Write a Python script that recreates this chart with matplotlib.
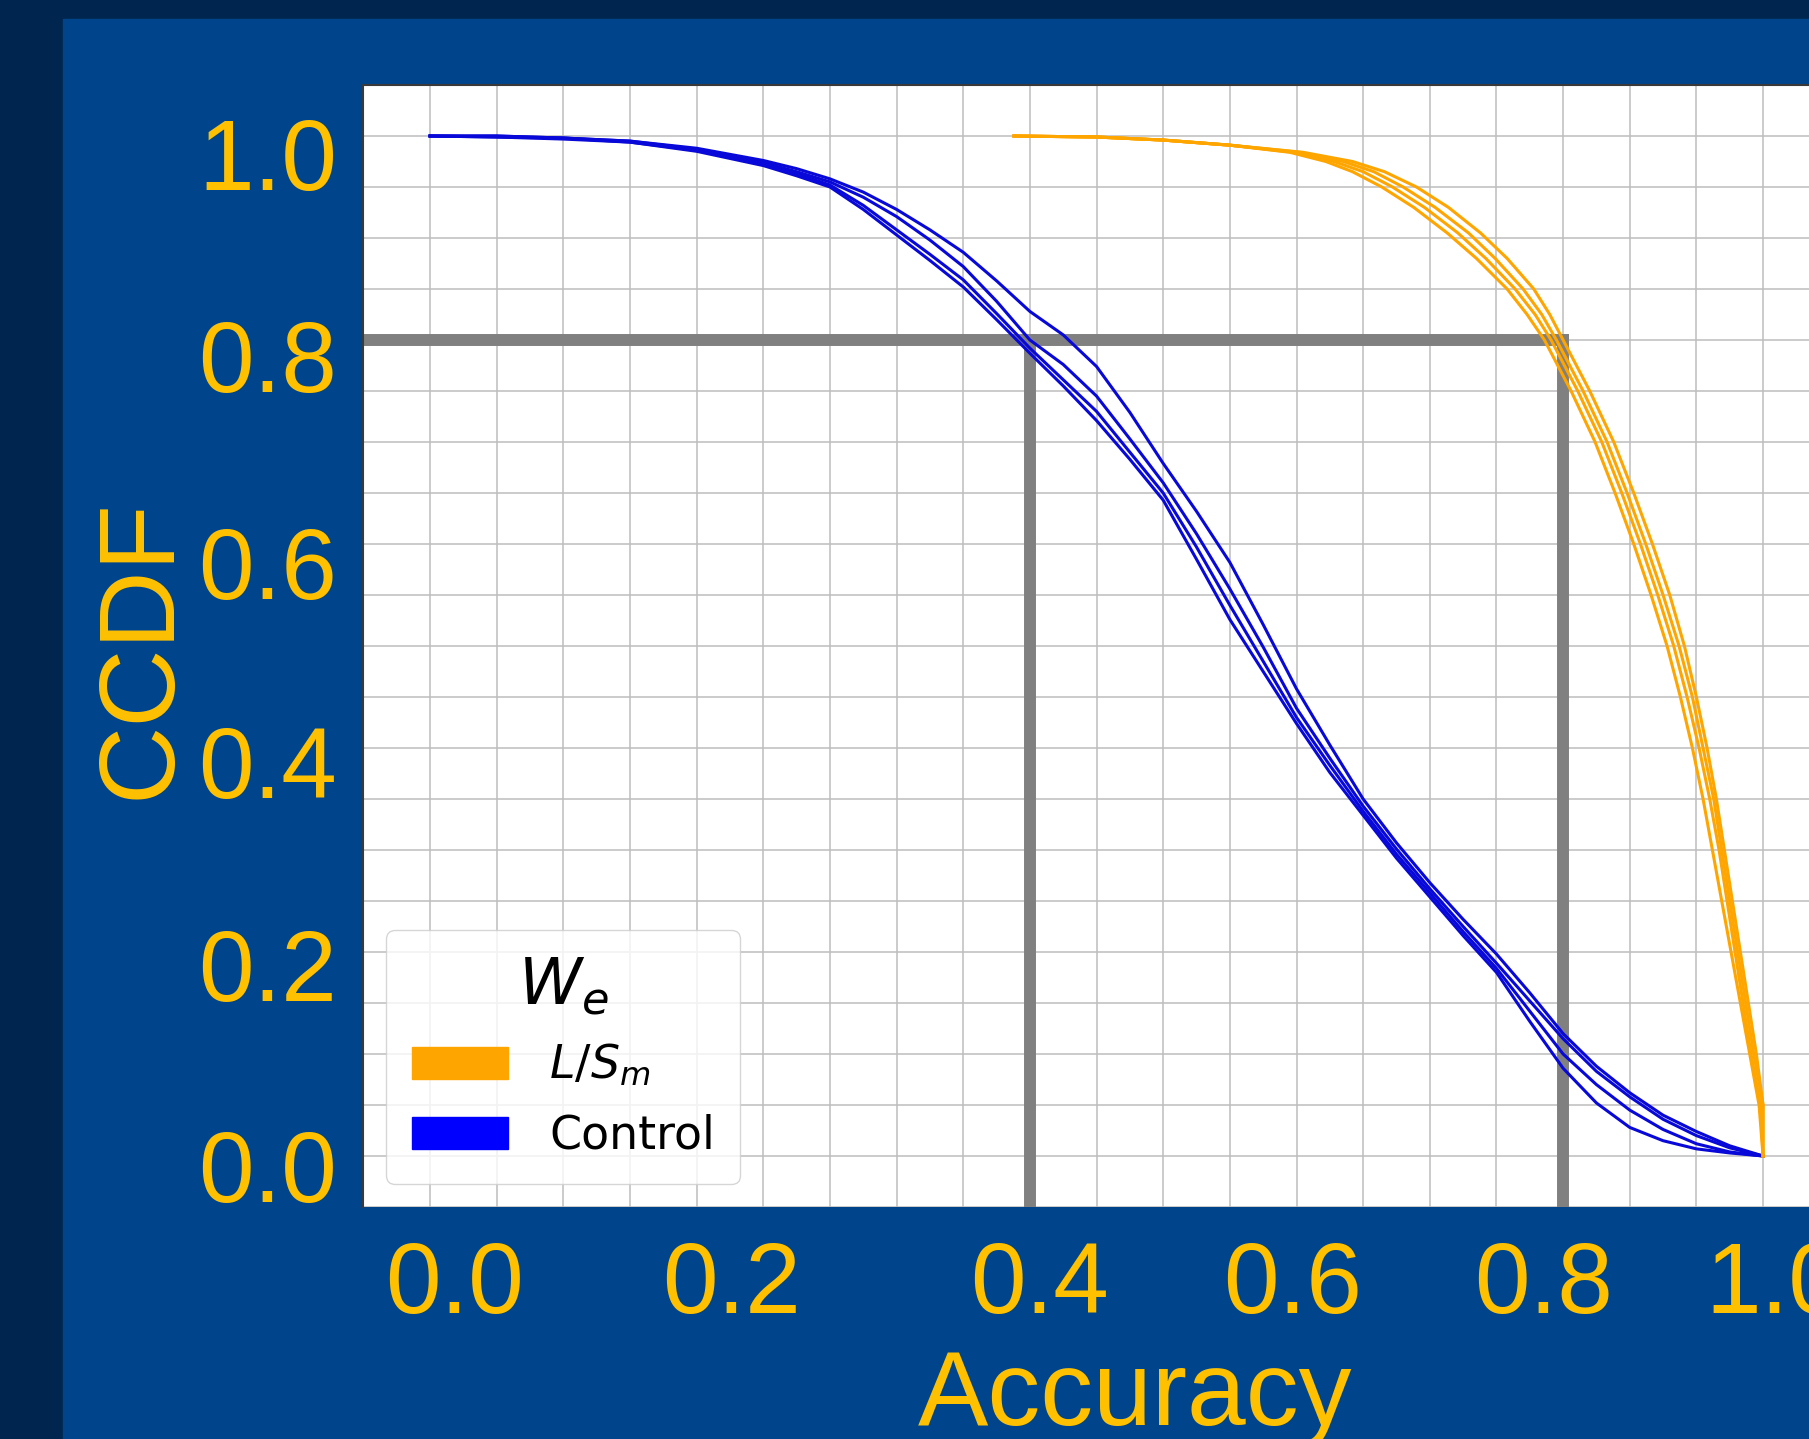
# CCDF of accuracy, L/S_m runs vs control runs, as shown on a slide

import matplotlib
matplotlib.use("Agg")
import numpy as np
import matplotlib.pyplot as plt
from matplotlib.patches import Patch, Rectangle

# slide colours
dark_bg = "#00264f"
panel_bg = "#00458b"
gold = "#ffc000"
ctrl_color = "#0808d8"
lsm_color = "#ffa500"

# control runs (blue): CCDF values on a shared accuracy grid
ctrl_x = [0.0, 0.05, 0.10, 0.15, 0.20, 0.225, 0.25, 0.275, 0.30, 0.325, 0.35,
          0.375, 0.40, 0.425, 0.45, 0.475, 0.50, 0.525, 0.55, 0.575, 0.60,
          0.625, 0.65, 0.675, 0.70, 0.725, 0.75, 0.775, 0.80, 0.825, 0.85,
          0.875, 0.90, 0.925, 0.95, 0.975, 1.0]
ctrl_a = [1.0, 1.0, 0.998, 0.995, 0.988, 0.982, 0.976, 0.968, 0.958, 0.945, 0.928,
          0.908, 0.886, 0.858, 0.828, 0.805, 0.774, 0.729, 0.679, 0.632, 0.582,
          0.521, 0.458, 0.403, 0.350, 0.307, 0.268, 0.232, 0.198, 0.160, 0.120,
          0.088, 0.062, 0.040, 0.024, 0.010, 0.0]
ctrl_b = [1.0, 1.0, 0.998, 0.995, 0.987, 0.981, 0.974, 0.965, 0.955, 0.940, 0.921,
          0.898, 0.872, 0.838, 0.800, 0.776, 0.745, 0.703, 0.660, 0.610, 0.556,
          0.499, 0.439, 0.390, 0.343, 0.301, 0.262, 0.225, 0.189, 0.152, 0.115,
          0.083, 0.058, 0.036, 0.020, 0.008, 0.0]
ctrl_c = [1.0, 0.999, 0.998, 0.994, 0.986, 0.979, 0.973, 0.963, 0.952, 0.932, 0.908,
          0.884, 0.859, 0.826, 0.792, 0.761, 0.730, 0.690, 0.650, 0.597, 0.540,
          0.485, 0.430, 0.383, 0.338, 0.296, 0.258, 0.220, 0.184, 0.142, 0.100,
          0.070, 0.045, 0.026, 0.012, 0.004, 0.0]
ctrl_d = [1.0, 0.999, 0.997, 0.994, 0.985, 0.978, 0.971, 0.961, 0.950, 0.928, 0.903,
          0.878, 0.852, 0.820, 0.787, 0.755, 0.721, 0.683, 0.643, 0.585, 0.526,
          0.475, 0.424, 0.376, 0.334, 0.292, 0.254, 0.216, 0.180, 0.132, 0.086,
          0.052, 0.028, 0.015, 0.007, 0.003, 0.0]
ctrl_runs = [ctrl_a, ctrl_b, ctrl_c, ctrl_d]

# L/S_m runs (orange): accuracy read at shared CCDF levels
lsm_y = [1.0, 0.999, 0.996, 0.991, 0.984, 0.975, 0.965, 0.95, 0.93, 0.905,
         0.88, 0.85, 0.825, 0.80, 0.75, 0.70, 0.65, 0.60, 0.55, 0.50,
         0.45, 0.40, 0.35, 0.30, 0.25, 0.20, 0.15, 0.10, 0.05, 0.0]
lsm_a = [0.438, 0.50, 0.55, 0.60, 0.645, 0.672, 0.692, 0.714, 0.738, 0.763,
         0.785, 0.808, 0.823, 0.836, 0.856, 0.874, 0.889, 0.903, 0.916, 0.928,
         0.938, 0.947, 0.955, 0.962, 0.969, 0.976, 0.983, 0.990, 0.997, 1.0]
lsm_b = [0.438, 0.50, 0.55, 0.60, 0.648, 0.678, 0.700, 0.722, 0.746, 0.771,
         0.792, 0.814, 0.829, 0.841, 0.861, 0.879, 0.894, 0.908, 0.921, 0.933,
         0.943, 0.952, 0.960, 0.967, 0.973, 0.979, 0.985, 0.991, 0.998, 1.0]
lsm_c = [0.438, 0.50, 0.55, 0.60, 0.652, 0.685, 0.708, 0.730, 0.754, 0.779,
         0.799, 0.820, 0.834, 0.845, 0.865, 0.883, 0.898, 0.912, 0.925, 0.937,
         0.947, 0.955, 0.963, 0.969, 0.975, 0.981, 0.987, 0.993, 1.0, 1.0]
lsm_d = [0.438, 0.50, 0.55, 0.60, 0.655, 0.692, 0.716, 0.740, 0.764, 0.788,
         0.808, 0.828, 0.840, 0.850, 0.870, 0.888, 0.903, 0.917, 0.930, 0.941,
         0.950, 0.958, 0.965, 0.971, 0.977, 0.983, 0.989, 0.995, 1.0, 1.0]
lsm_runs = [lsm_a, lsm_b, lsm_c, lsm_d]

# grey guide lines at CCDF = 0.8
guide_y = 0.8
guide_x = [0.45, 0.85]

# tick labels (placed by hand on the slide, not exactly on the grid)
xtick_pos = [0.018, 0.226, 0.457, 0.647, 0.835, 1.009]
xtick_labels = ["0.0", "0.2", "0.4", "0.6", "0.8", "1.0"]
ytick_pos = [-0.009, 0.188, 0.387, 0.582, 0.785, 0.983]
ytick_labels = ["0.0", "0.2", "0.4", "0.6", "0.8", "1.0"]

plt.rcParams["font.family"] = ["Liberation Sans", "DejaVu Sans"]

W, H = 1809, 1439
fig = plt.figure(figsize=(W / 100, H / 100), dpi=100, facecolor=dark_bg)
fig.patches.append(Rectangle((63 / W, 0), 1 - 63 / W, 1 - 19 / H,
                             transform=fig.transFigure, color=panel_bg, zorder=-10))

ax = fig.add_axes([363.4 / W, 232 / H, 1466.3 / W, 1122 / H])
ax.set_facecolor("white")
ax.set_xlim(-0.05, 1.05)
ax.set_ylim(-0.05, 1.05)

# grid every 0.05
grid_ticks = np.arange(-0.05, 1.051, 0.05)
ax.set_xticks(grid_ticks, minor=True)
ax.set_yticks(grid_ticks, minor=True)
ax.grid(which="minor", color="#bdbdbd", lw=1.1)
ax.set_axisbelow(True)

ax.set_xticks(xtick_pos, xtick_labels)
ax.set_yticks(ytick_pos, ytick_labels)
ax.tick_params(which="both", length=0)
ax.tick_params(axis="x", which="major", pad=24, labelsize=72, labelcolor=gold)
ax.tick_params(axis="y", which="major", pad=19, labelsize=72, labelcolor=gold)

for s in ax.spines.values():
    s.set_color("#3a3a3a")
    s.set_linewidth(1.5)
ax.spines["bottom"].set_visible(False)

# guide lines
ax.plot([-0.1, guide_x[1]], [guide_y, guide_y], color="#808080", lw=8.6,
        solid_capstyle="projecting", zorder=2)
for gx in guide_x:
    ax.plot([gx, gx], [-0.1, guide_y], color="#808080", lw=8.6,
            solid_capstyle="projecting", zorder=2)

for ys in ctrl_runs:
    ax.plot(ctrl_x, ys, color=ctrl_color, lw=2.2, zorder=3)
for xs in lsm_runs:
    ax.plot(xs, lsm_y, color=lsm_color, lw=2.2, zorder=3)

handles = [Patch(color=lsm_color, label="$L/S_m$"),
           Patch(color="blue", label="Control")]
ax.legend(handles=handles, title="$W_e$", loc="lower left",
          prop={"family": "DejaVu Sans", "size": 33},
          title_fontproperties={"family": "DejaVu Sans", "size": 46},
          handlelength=2.1, handleheight=0.7, handletextpad=0.9,
          labelspacing=0.55, borderpad=0.55, borderaxespad=0.5)

ax.set_xlabel("Accuracy", fontsize=76, color=gold)
ax.xaxis.set_label_coords(0.526, -0.126)
ax.set_ylabel("CCDF", fontsize=78, color=gold)
ax.yaxis.set_label_coords(-0.117, 0.498)

fig.savefig("out.png", dpi=100, facecolor=fig.get_facecolor())
